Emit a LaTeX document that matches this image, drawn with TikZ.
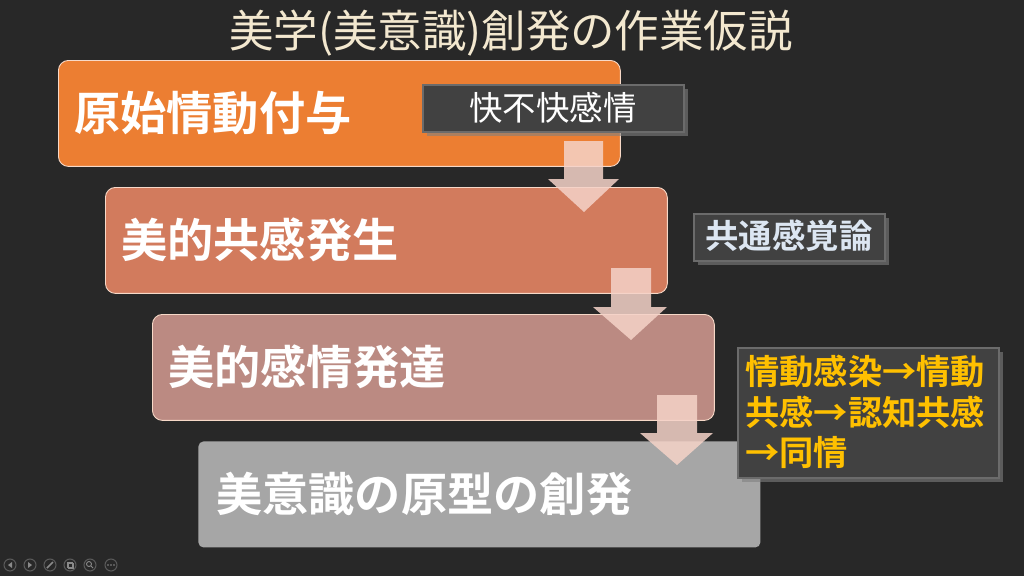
\documentclass[tikz,border=0pt]{standalone}
\usepackage{fontspec}
\setmainfont{Noto Sans CJK JP}[BoldFont={Noto Sans CJK JP Bold}]
\usetikzlibrary{shadows}
\definecolor{bg}{HTML}{282828}
\definecolor{cA}{HTML}{EC7E32}
\definecolor{cB}{HTML}{D27B5D}
\definecolor{cC}{HTML}{BB8A82}
\definecolor{cD}{HTML}{A6A6A6}
\definecolor{edgeA}{HTML}{F7D9C8}
\definecolor{arrowc}{HTML}{F5D3C8}
\definecolor{titlec}{HTML}{F3E8CF}
\definecolor{sidefill}{HTML}{414141}
\definecolor{sideedge}{HTML}{6B6B6B}
\definecolor{bluewhite}{HTML}{DCE6F2}
\definecolor{gold}{HTML}{FFC000}
\definecolor{iconc}{HTML}{5A5A5A}
\definecolor{iconf}{HTML}{8A8A8A}
\begin{document}
\begin{tikzpicture}[x=0.02cm,y=-0.02cm,
  stepbox/.style={draw=edgeA, line width=0.5pt, rounded corners=0.2cm, anchor=north west,
    minimum width=11.24cm, minimum height=2.12cm, inner sep=0pt},
  steptext/.style={anchor=west, text=white, font=\bfseries\fontsize{26.3}{30}\selectfont, inner sep=0pt},
  blockarrow/.style={fill=arrowc, fill opacity=0.85},
  sidebox/.style={fill=sidefill, draw=sideedge, line width=1.4pt, anchor=north west, inner sep=0pt,
    drop shadow={shadow xshift=2pt, shadow yshift=-2pt, opacity=0.6}},
  icon/.style={draw=iconc, line width=0.6pt}
]
\fill[bg] (0,0) rectangle (1024,576);
\useasboundingbox (0,0) rectangle (1024,576);

% title
\node[text=titlec, font=\fontsize{25.3}{29}\selectfont] (title) at (511,33) {美学(美意識)創発の作業仮説};

% step boxes
\node[stepbox, fill=cA] (b1) at (58,60) {};
\node[stepbox, fill=cB] (b2) at (105,187) {};
\node[stepbox, fill=cC] (b3) at (152,314) {};
\node[stepbox, fill=cD, draw=none, rounded corners=0.1cm] (b4) at (198,441) {};

% step texts
\node[steptext] (t1) at (74,113) {原始情動付与};
\node[steptext] (t2) at (121,240) {美的共感発生};
\node[steptext] (t3) at (168,367) {美的感情発達};
\node[steptext] (t4) at (216,494) {美意識の原型の創発};

% block arrows
\fill[blockarrow] (564,141) -- (603,141) -- (603,179) -- (619,179) -- (584,212) -- (548,179) -- (564,179) -- cycle;
\fill[blockarrow] (611,268) -- (651,268) -- (651,307) -- (667,307) -- (631,340) -- (593,307) -- (611,307) -- cycle;
\fill[blockarrow] (657,395) -- (697,395) -- (697,433) -- (713,433) -- (677,465) -- (640,433) -- (657,433) -- cycle;

% side boxes
\node[sidebox, minimum width=5.22cm, minimum height=0.94cm] (k1) at (422,84) {};
\node[text=white, font=\fontsize{19}{22}\selectfont] (k1t) at (553,108) {快不快感情};
\node[sidebox, minimum width=3.82cm, minimum height=0.94cm] (k2) at (693,213) {};
\node[text=bluewhite, font=\bfseries\fontsize{19}{22}\selectfont] (k2t) at (789,236) {共通感覚論};
\node[sidebox, minimum width=5.22cm, minimum height=2.6cm] (k3) at (737,347) {};
\node[text=gold, anchor=north west, align=left, inner sep=0pt,
  font=\bfseries\fontsize{19.5}{23}\selectfont] (k3t) at (745,355)
  {情動感染→情動\\共感→認知共感\\→同情};

% player icons
\foreach \i/\x in {1/10,2/30,3/50,4/70,5/90,6/111} {
  \draw[icon] (\x,565) circle (6);
}
\fill[iconf] (12,562) -- (12,568) -- (8,565) -- cycle;
\fill[iconf] (28,562) -- (28,568) -- (32,565) -- cycle;
\draw[iconf, line width=0.9pt] (47,568) -- (53,562);
\draw[iconf, line width=0.5pt] (67,562) rectangle (72,567) (68.5,563.5) rectangle (73,568);
\draw[iconf, line width=0.5pt] (89,564) circle (2.5) (91,566) -- (93,568);
\foreach \d in {108,111,114} \fill[iconf] (\d,565) circle (0.9);
\end{tikzpicture}
\end{document}
